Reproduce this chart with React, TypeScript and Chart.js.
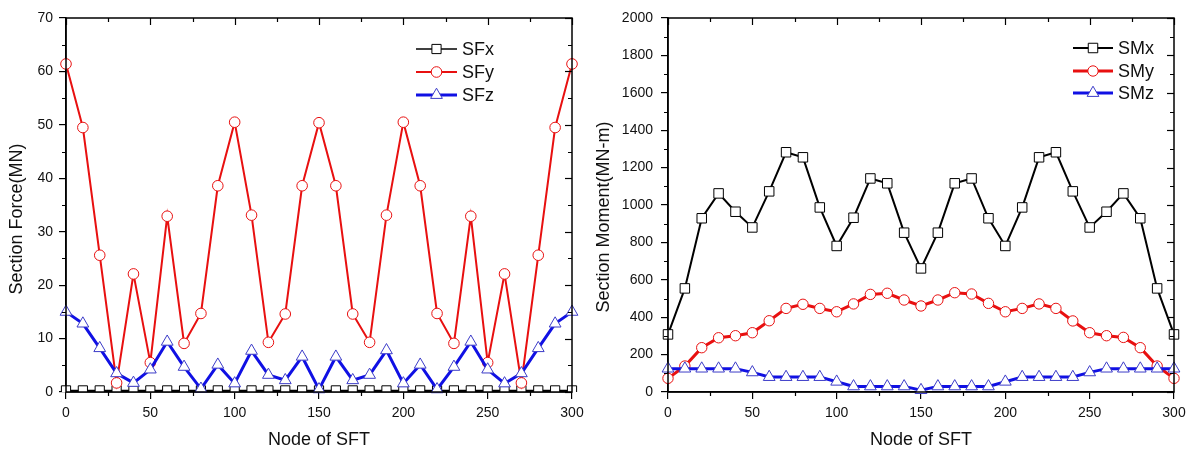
import React, { useEffect, useRef } from "react";
import { Chart, registerables } from "chart.js";

Chart.register(...registerables);

const NODES = [0, 10, 20, 30, 40, 50, 60, 70, 80, 90, 100, 110, 120, 130, 140, 150, 160, 170, 180, 190, 200, 210, 220, 230, 240, 250, 260, 270, 280, 290, 300];

const SFX = [0.3, 0.3, 0.3, 0.3, 0.3, 0.3, 0.3, 0.3, 0.3, 0.3, 0.3, 0.3, 0.3, 0.3, 0.3, 0.3, 0.3, 0.3, 0.3, 0.3, 0.3, 0.3, 0.3, 0.3, 0.3, 0.3, 0.3, 0.3, 0.3, 0.3, 0.3];
const SFY = [61.4, 49.5, 25.6, 1.7, 22.1, 5.5, 32.9, 9.1, 14.7, 38.6, 50.5, 33.1, 9.3, 14.6, 38.6, 50.4, 38.6, 14.6, 9.3, 33.1, 50.5, 38.6, 14.7, 9.1, 32.9, 5.5, 22.1, 1.7, 25.6, 49.5, 61.4];
const SFZ = [15.0, 12.8, 8.2, 3.5, 1.7, 4.2, 9.4, 4.7, 0.6, 5.1, 1.6, 7.7, 3.2, 2.2, 6.6, 0.5, 6.6, 2.2, 3.2, 7.8, 1.6, 5.1, 0.5, 4.7, 9.4, 4.2, 1.6, 3.5, 8.2, 12.8, 15.0];

const SMX = [308, 554, 929, 1062, 964, 880, 1073, 1282, 1255, 987, 781, 932, 1142, 1116, 852, 661, 852, 1116, 1142, 929, 781, 987, 1255, 1282, 1073, 880, 964, 1062, 929, 554, 308];
const SMY = [73, 139, 237, 290, 301, 317, 381, 447, 469, 447, 429, 471, 522, 528, 492, 460, 492, 531, 524, 474, 429, 447, 471, 447, 380, 317, 301, 292, 237, 139, 73];
const SMZ = [125, 125, 125, 125, 125, 105, 80, 80, 80, 80, 55, 30, 30, 30, 30, 10, 30, 30, 30, 30, 55, 80, 80, 80, 80, 105, 125, 125, 125, 125, 125];

const X_TICK_STEP = 50;
const X_MINOR_STEP = 25;
const SF_MAX = 70;
const SF_STEP = 10;
const SF_MINOR = 5;
const SM_MAX = 2000;
const SM_STEP = 200;
const SM_MINOR = 100;

const SF_NAMES = ["SFx", "SFy", "SFz"];
const SM_NAMES = ["SMx", "SMy", "SMz"];

const X_TITLE = "Node of SFT";
const SF_Y_TITLE = "Section Force(MN)";
const SM_Y_TITLE = "Section Moment(MN-m)";

const FONT = "'Liberation Sans', Arial, sans-serif";
const RED = "rgb(232,16,16)";
const BLUE = "rgb(16,16,228)";
const BLACK = "#000";

function drawMarker(ctx: CanvasRenderingContext2D, style: string, x: number, y: number, r: number, color: string) {
  ctx.save();
  ctx.beginPath();
  if (style === "rect") {
    const s = Math.SQRT1_2 * r;
    ctx.rect(x - s, y - s, 2 * s, 2 * s);
  } else if (style === "circle") {
    ctx.arc(x, y, r, 0, Math.PI * 2);
  } else {
    const a = (Math.PI * 2) / 3;
    ctx.moveTo(x, y - r);
    ctx.lineTo(x + Math.sin(a) * r, y - Math.cos(a) * r);
    ctx.lineTo(x - Math.sin(a) * r, y - Math.cos(a) * r);
    ctx.closePath();
  }
  ctx.fillStyle = "#fff";
  ctx.fill();
  ctx.lineWidth = 1;
  ctx.strokeStyle = color;
  ctx.stroke();
  ctx.restore();
}

const decorPlugin = {
  id: "decor",
  afterDraw(chart: any, _args: any, opts: any) {
    const ctx: CanvasRenderingContext2D = chart.ctx;
    const { left, right, top, bottom } = chart.chartArea;
    const xs = chart.scales.x;
    const ys = chart.scales.y;
    ctx.save();
    ctx.strokeStyle = "#000";
    ctx.lineWidth = 1.5;
    ctx.strokeRect(left, top, right - left, bottom - top);
    ctx.lineWidth = 1.2;
    for (let v = xs.min; v <= xs.max + 1e-9; v += opts.xMinor) {
      const px = Math.round(xs.getPixelForValue(v)) + 0.5;
      const major = Math.abs(v % opts.xMajor) < 1e-9;
      const len = major ? 7 : 4;
      ctx.beginPath();
      ctx.moveTo(px, top);
      ctx.lineTo(px, top + len);
      if (!major) {
        ctx.moveTo(px, bottom);
        ctx.lineTo(px, bottom + 4);
      }
      ctx.stroke();
    }
    for (let v = ys.min; v <= ys.max + 1e-9; v += opts.yMinor) {
      const py = Math.round(ys.getPixelForValue(v)) + 0.5;
      const major = Math.abs(v % opts.yMajor) < 1e-9;
      const len = major ? 7 : 4;
      ctx.beginPath();
      ctx.moveTo(right, py);
      ctx.lineTo(right - len, py);
      if (!major) {
        ctx.moveTo(left, py);
        ctx.lineTo(left - 4, py);
      }
      ctx.stroke();
    }
    ctx.fillStyle = "#111";
    ctx.font = `18px ${FONT}`;
    ctx.textAlign = "center";
    ctx.textBaseline = "middle";
    ctx.fillText(opts.xTitle, (left + right) / 2, opts.xTitleY);
    ctx.save();
    ctx.translate(opts.yTitleX, opts.yTitleY);
    ctx.rotate(-Math.PI / 2);
    ctx.fillText(opts.yTitle, 0, 0);
    ctx.restore();
    const datasets = chart.data.datasets;
    datasets.forEach((ds: any, i: number) => {
      const y = opts.legendY[i];
      ctx.beginPath();
      ctx.strokeStyle = ds.borderColor;
      ctx.lineWidth = ds.borderWidth;
      ctx.moveTo(opts.legendX1, y);
      ctx.lineTo(opts.legendX2, y);
      ctx.stroke();
      drawMarker(ctx, ds.pointStyle, (opts.legendX1 + opts.legendX2) / 2, y, ds.pointRadius, ds.pointBorderColor);
      ctx.fillStyle = "#111";
      ctx.font = `18px ${FONT}`;
      ctx.textAlign = "left";
      ctx.textBaseline = "middle";
      ctx.fillText(ds.label, opts.legendX2 + 5, y + 1);
    });
    ctx.restore();
  },
};

function makeDataset(label: string, data: number[], color: string, markerColor: string, width: number, style: string, radius: number, order: number, clip: any) {
  return {
    label,
    data: NODES.map((n, i) => ({ x: n, y: data[i] })),
    borderColor: color,
    borderWidth: width,
    pointStyle: style,
    pointRadius: radius,
    pointHoverRadius: radius,
    pointBackgroundColor: "#fff",
    pointBorderColor: markerColor,
    pointBorderWidth: 1,
    tension: 0,
    fill: false,
    order,
    clip,
  };
}

function buildOptions(yMax: number, yStep: number, yWidth: number, rightPad: number, tickPadY: number, decor: any) {
  return {
    responsive: false,
    animation: false as const,
    events: [],
    layout: { padding: { top: 18, right: rightPad, left: 0, bottom: 0 } },
    plugins: {
      legend: { display: false },
      tooltip: { enabled: false },
      decor,
    },
    scales: {
      x: {
        type: "linear" as const,
        min: 0,
        max: 300,
        afterFit: (s: any) => {
          s.height = 58;
        },
        ticks: {
          stepSize: X_TICK_STEP,
          color: "#111",
          font: { size: 14, family: FONT },
          padding: 6,
          maxRotation: 0,
          callback: (v: any) => String(v),
        },
        grid: { drawOnChartArea: false, drawTicks: true, tickLength: 7, color: "#000", lineWidth: 1.2 },
        border: { display: true, color: "#000", width: 1.5 },
      },
      y: {
        type: "linear" as const,
        min: 0,
        max: yMax,
        afterFit: (s: any) => {
          s.width = yWidth;
        },
        ticks: {
          stepSize: yStep,
          color: "#111",
          font: { size: 14, family: FONT },
          padding: tickPadY,
          callback: (v: any) => String(v),
        },
        grid: { drawOnChartArea: false, drawTicks: true, tickLength: 7, color: "#000", lineWidth: 1.2 },
        border: { display: true, color: "#000", width: 1.5 },
      },
    },
  };
}

function ForceChart() {
  const ref = useRef<HTMLCanvasElement | null>(null);
  useEffect(() => {
    if (!ref.current) return;
    const clipX = { left: 10, right: 10, top: 10, bottom: 0 };
    const chart = new Chart(ref.current, {
      type: "line",
      data: {
        datasets: [
          makeDataset(SF_NAMES[0], SFX, BLACK, BLACK, 1.5, "rect", 6.5, 3, clipX),
          makeDataset(SF_NAMES[1], SFY, RED, RED, 2, "circle", 5.3, 2, 10),
          makeDataset(SF_NAMES[2], SFZ, BLUE, "rgb(60,60,200)", 3, "triangle", 6.8, 1, 10),
        ],
      },
      options: buildOptions(SF_MAX, SF_STEP, 66, 24, 6, {
        xMajor: X_TICK_STEP,
        xMinor: X_MINOR_STEP,
        yMajor: SF_STEP,
        yMinor: SF_MINOR,
        xTitle: X_TITLE,
        xTitleY: 440,
        yTitle: SF_Y_TITLE,
        yTitleX: 17,
        yTitleY: 219,
        legendX1: 416,
        legendX2: 457,
        legendY: [49, 72, 95],
      }) as any,
      plugins: [decorPlugin],
    });
    return () => chart.destroy();
  }, []);
  return <canvas ref={ref} width={596} height={450} style={{ display: "block" }} />;
}

function MomentChart() {
  const ref = useRef<HTMLCanvasElement | null>(null);
  useEffect(() => {
    if (!ref.current) return;
    const chart = new Chart(ref.current, {
      type: "line",
      data: {
        datasets: [
          makeDataset(SM_NAMES[0], SMX, BLACK, BLACK, 2, "rect", 6.7, 3, 10),
          makeDataset(SM_NAMES[1], SMY, RED, RED, 3, "circle", 5.2, 2, 10),
          makeDataset(SM_NAMES[2], SMZ, BLUE, "rgb(60,60,200)", 3, "triangle", 6.8, 1, 10),
        ],
      },
      options: buildOptions(SM_MAX, SM_STEP, 72, 18, 8, {
        xMajor: X_TICK_STEP,
        xMinor: X_MINOR_STEP,
        yMajor: SM_STEP,
        yMinor: SM_MINOR,
        xTitle: X_TITLE,
        xTitleY: 440,
        yTitle: SM_Y_TITLE,
        yTitleX: 8,
        yTitleY: 217,
        legendX1: 477,
        legendX2: 517,
        legendY: [48, 71, 93],
      }) as any,
      plugins: [decorPlugin],
    });
    return () => chart.destroy();
  }, []);
  return <canvas ref={ref} width={596} height={450} style={{ display: "block" }} />;
}

export default function App() {
  return (
    <div style={{ position: "absolute", left: 0, top: 0, width: 1192, height: 450, background: "#fff", display: "flex" }}>
      <ForceChart />
      <MomentChart />
    </div>
  );
}
